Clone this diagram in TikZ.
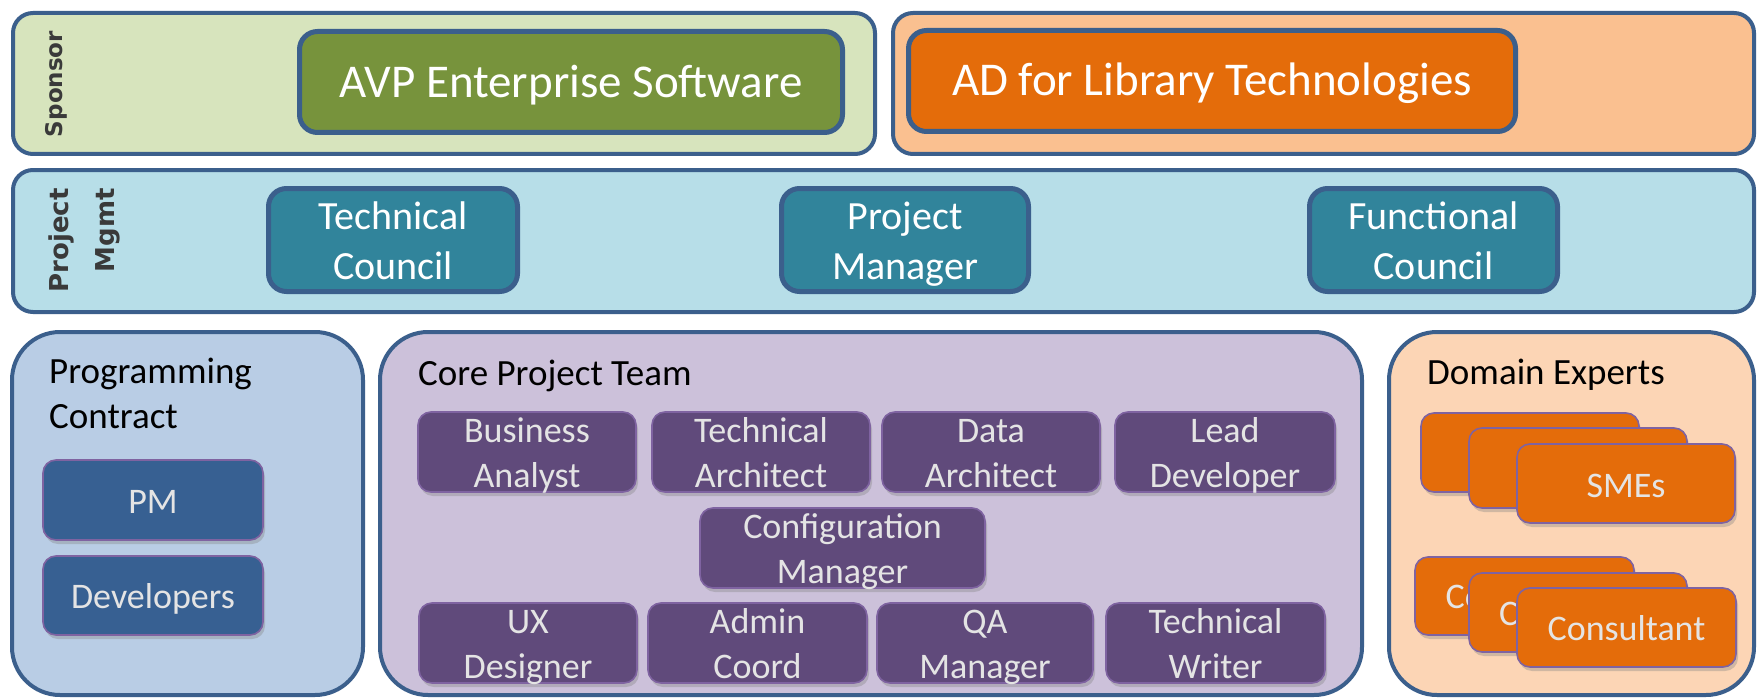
\documentclass[tikz,border=0pt]{standalone}
\usepackage{fontspec}
\setmainfont{Carlito}
\newfontfamily\lblfont{DejaVu Sans}
\usetikzlibrary{shadows}
\definecolor{edgeblue}{HTML}{3B5F8C}
\definecolor{edgepurp}{HTML}{7F63A1}
\definecolor{sponsgreen}{HTML}{D7E4BD}
\definecolor{avpgreen}{HTML}{77933C}
\definecolor{adbgorange}{HTML}{FAC090}
\definecolor{adorange}{HTML}{E46C0A}
\definecolor{pmrowblue}{HTML}{B7DEE8}
\definecolor{teal}{HTML}{31849B}
\definecolor{progblue}{HTML}{B9CDE5}
\definecolor{pmblue}{HTML}{376092}
\definecolor{corelav}{HTML}{CCC1DA}
\definecolor{corepurp}{HTML}{604A7B}
\definecolor{dompeach}{HTML}{FCD5B5}
\definecolor{lighttxt}{HTML}{E4E4E4}
\definecolor{lbltxt}{HTML}{3A3A3A}
\newcommand\rb[6]{%
  \pgfmathsetmacro\rbcx{(#3+#5)/2}\pgfmathsetmacro\rbcy{(#4+#6)/2}%
  \pgfmathsetmacro\rbw{#5-#3}\pgfmathsetmacro\rbh{#6-#4}%
  \node[#1,minimum width=\rbw pt,minimum height=\rbh pt,inner sep=0pt] (#2) at (\rbcx,\rbcy) {};}
\newcommand\tl[1]{\begin{tabular}[t]{@{}c@{}}#1\end{tabular}}
\begin{document}
\begin{tikzpicture}[x=1pt,y=-1pt,
  outerbox/.style={draw=edgeblue,line width=4pt,rounded corners=20pt},
  bigbox/.style={draw=edgeblue,line width=4pt,rounded corners=48pt},
  thickbox/.style={draw=edgeblue,line width=5pt,rounded corners=18pt},
  thinbox/.style={draw=edgepurp,line width=1.6pt,rounded corners=13pt,
     drop shadow={shadow xshift=2pt,shadow yshift=-4pt,opacity=0.35}},
  bigtxt/.style={text=white,inner sep=0pt,font=\fontsize{47}{56}\selectfont},
  council/.style={text=white,inner sep=0pt,font=\fontsize{40}{50}\selectfont},
  roletxt/.style={text=lighttxt,inner sep=0pt,font=\fontsize{36}{45}\selectfont},
  title/.style={text=black,inner sep=0pt,anchor=base west,font=\fontsize{37}{45}\selectfont},
  sidelbl/.style={text=lbltxt,inner sep=0pt,rotate=90}]
\useasboundingbox[fill=white] (0,0) rectangle (1759,698);
% ---------- Sponsor row
\rb{outerbox,fill=sponsgreen}{spons}{13}{13}{875}{154}
\rb{outerbox,fill=adbgorange}{adbg}{893}{13}{1754}{154}
\node[sidelbl,font=\lblfont\bfseries\fontsize{23}{46}\selectfont] (sponslbl) at (56,84) {Sponsor};
\rb{thickbox,fill=avpgreen}{avp}{299.5}{31.5}{842.5}{132.5}
\node[bigtxt,anchor=base] (avpt) at (571,98) {AVP Enterprise Software};
\rb{thickbox,fill=adorange}{ad}{908.5}{30.5}{1515.5}{131.5}
\node[bigtxt,anchor=base] (adt) at (1212,96) {AD for Library Technologies};
% ---------- Project Mgmt row
\rb{outerbox,fill=pmrowblue}{pmrow}{13}{170}{1754}{312}
\node[sidelbl,anchor=base east,font=\lblfont\bfseries\fontsize{26}{46}\selectfont] (pmlbl) at (68,188) {\begin{tabular}[t]{@{}r@{}}Project\\Mgmt\end{tabular}};
\rb{thickbox,fill=teal}{tc}{268.5}{188.5}{517.5}{291.5}
\node[council,anchor=base] (tct) at (393,229) {\tl{Technical\\Council}};
\rb{thickbox,fill=teal}{pmgr}{781.5}{188.5}{1028.5}{291.5}
\node[council,anchor=base] (pmgrt) at (905,229) {\tl{Project\\Manager}};
\rb{thickbox,fill=teal}{fc}{1309.5}{188.5}{1557.5}{291.5}
\node[council,anchor=base] (fct) at (1433.5,229) {\tl{Functional\\Council}};
% ---------- Programming Contract
\rb{bigbox,fill=progblue}{prog}{12}{332}{363}{695}
\node[title] (progt) at (49,383) {\begin{tabular}[t]{@{}l@{}}Programming\\Contract\end{tabular}};
\rb{thinbox,fill=pmblue}{pmb}{43}{460}{263}{540}
\node[roletxt,anchor=base] (pmbt) at (153,513) {PM};
\rb{thinbox,fill=pmblue}{dev}{43}{556}{263}{635}
\node[roletxt,anchor=base] (devt) at (153,608) {Developers};
% ---------- Core Project Team
\rb{bigbox,fill=corelav}{core}{380}{332}{1362}{695}
\node[title] (coret) at (418,385) {Core Project Team};
\rb{thinbox,fill=corepurp}{ba}{418}{412}{636}{492}
\node[roletxt,anchor=base] (bat) at (527,442) {\tl{Business\\Analyst}};
\rb{thinbox,fill=corepurp}{ta}{652}{412}{870}{492}
\node[roletxt,anchor=base] (tat) at (761,442) {\tl{Technical\\Architect}};
\rb{thinbox,fill=corepurp}{da}{882}{412}{1100}{492}
\node[roletxt,anchor=base] (dat) at (991,442) {\tl{Data\\Architect}};
\rb{thinbox,fill=corepurp}{ld}{1115}{412}{1335}{492}
\node[roletxt,anchor=base] (ldt) at (1225,442) {\tl{Lead\\Developer}};
\rb{thinbox,fill=corepurp}{cm}{700}{508}{985}{588}
\node[roletxt,anchor=base] (cmt) at (842.5,538) {\tl{Configuration\\Manager}};
\rb{thinbox,fill=corepurp}{ux}{419}{603}{637}{683}
\node[roletxt,anchor=base] (uxt) at (528,633) {\tl{UX\\Designer}};
\rb{thinbox,fill=corepurp}{ac}{648}{603}{867}{683}
\node[roletxt,anchor=base] (act) at (757.5,633) {\tl{Admin\\Coord}};
\rb{thinbox,fill=corepurp}{qa}{877}{603}{1093}{683}
\node[roletxt,anchor=base] (qat) at (985,633) {\tl{QA\\Manager}};
\rb{thinbox,fill=corepurp}{tw}{1106}{603}{1325}{683}
\node[roletxt,anchor=base] (twt) at (1215.5,633) {\tl{Technical\\Writer}};
% ---------- Domain Experts
\rb{bigbox,fill=dompeach}{dom}{1389}{332}{1754}{695}
\node[title] (domt) at (1427,384) {Domain Experts};
\rb{thinbox,fill=adorange}{sme1}{1421}{413}{1639}{492}
\rb{thinbox,fill=adorange}{sme2}{1469}{428}{1687}{508}
\rb{thinbox,fill=adorange}{sme3}{1517}{444}{1735}{523}
\node[roletxt,anchor=base] (smet) at (1626,497) {SMEs};
\rb{thinbox,fill=adorange}{con1}{1415}{557}{1634}{635}
\node[roletxt,anchor=base] (con1t) at (1524.5,608.5) {Consultant};
\rb{thinbox,fill=adorange}{con2}{1469}{573}{1687}{652}
\node[roletxt,anchor=base] (con2t) at (1578,625) {Consultant};
\rb{thinbox,fill=adorange}{con3}{1517}{588}{1736}{667}
\node[roletxt,anchor=base] (con3t) at (1626.5,640) {Consultant};
\end{tikzpicture}
\end{document}
